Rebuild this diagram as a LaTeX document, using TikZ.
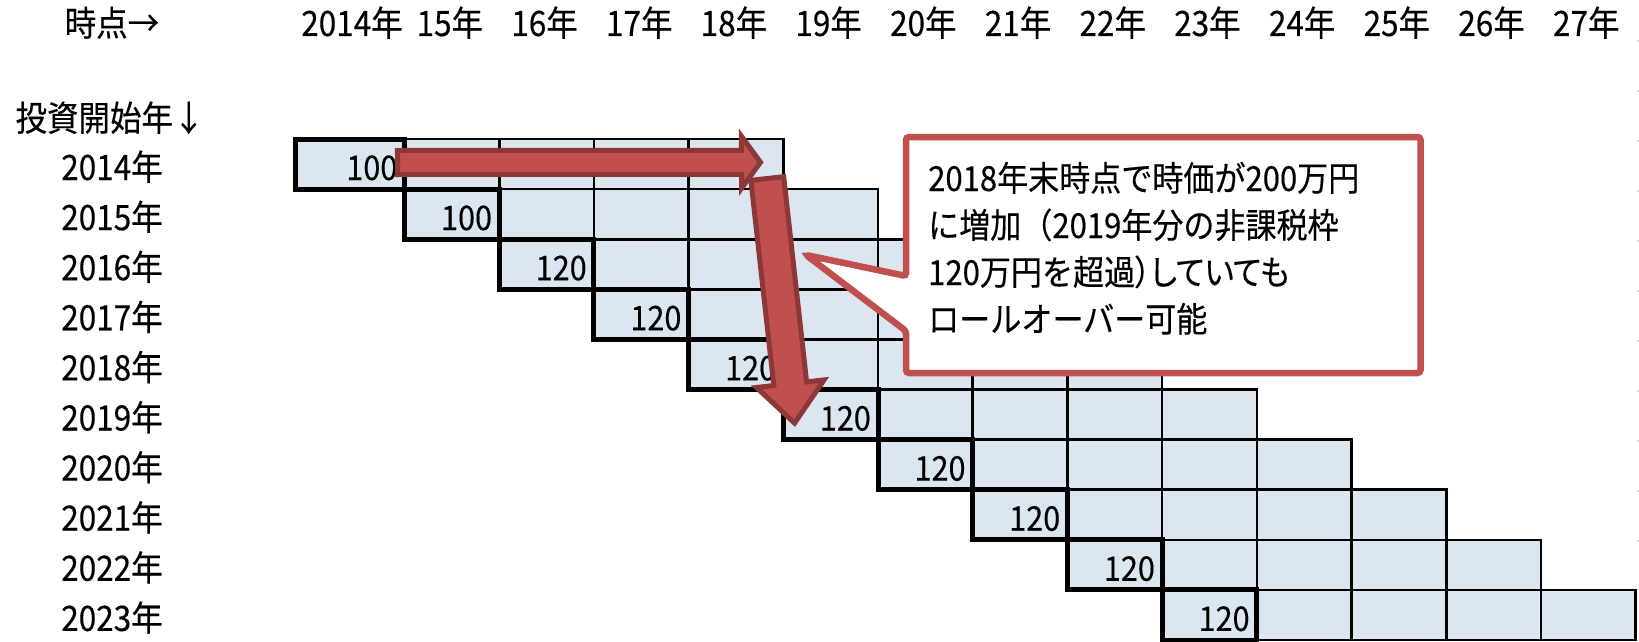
\documentclass[tikz,border=0pt]{standalone}
\usepackage{fontspec}
\setmainfont[FakeStretch=0.9,FakeBold=0.3]{Noto Sans CJK JP}
\usetikzlibrary{calc}
\definecolor{cellfill}{RGB}{220,230,241}
\definecolor{callred}{RGB}{192,80,77}
\definecolor{arrdark}{RGB}{140,56,54}
\newcommand{\propw}[1]{{\addfontfeature{RawFeature=+palt}#1}}
\begin{document}
\begin{tikzpicture}[x=1pt,y=-1pt,
  lbl/.style={inner sep=0pt, anchor=base, font=\fontsize{35}{35}\selectfont},
  num/.style={inner sep=0pt, anchor=base east, font=\fontsize{34}{34}\selectfont},
  cellbox/.style={fill=cellfill, draw=black, line width=2.6pt},
  firstbox/.style={draw=black, line width=5pt},
  blockarrow/.style={fill=callred, draw=arrdark, line width=5pt, line join=miter, miter limit=10},
  callout/.style={fill=white, draw=callred, line width=6.5pt, rounded corners=3pt},
  ctext/.style={inner sep=0pt, anchor=base west, font=\fontsize{34.5}{34.5}\selectfont},
  edgemark/.style={draw=gray!35, line width=1.2pt, dash pattern=on 2pt off 48pt}
]
\fill[white] (0,0) rectangle (1639,642);
\useasboundingbox (0,0) rectangle (1639,642);

% headings
\node[lbl] (hdr) at (112,36) {時点→};
\node[lbl] (vhdr) at (110,131) {投資開始年↓};
\node[lbl] (h0) at (352,36) {2014年};
\foreach \j/\t in {1/15,2/16,3/17,4/18,5/19,6/20,7/21,8/22,9/23,10/24,11/25,12/26,13/27}{
  \node[lbl] (h\j) at ({404.5+94.7*(\j-0.5)-2},36) {\t 年};
}

% row labels
\foreach \i in {0,...,9}{
  \pgfmathtruncatemacro\yr{2014+\i}
  \node[lbl] (r\i) at (112,{164+50.1*\i+16}) {{\yr}年};
}

% grid cells
\foreach \i in {0,...,9}{
  \foreach \k in {0,...,4}{
    \pgfmathtruncatemacro\c{\i+\k}
    \pgfmathsetmacro\xl{\c==0 ? 295 : 404.5+94.7*(\c-1)}
    \pgfmathsetmacro\xr{404.5+94.7*\c}
    \pgfmathsetmacro\yt{139+50.1*\i}
    \path[cellbox] (\xl,\yt) rectangle (\xr,\yt+50.1);
  }
}
% first cells (thick) and amounts
\foreach \i in {0,...,9}{
  \pgfmathsetmacro\xl{\i==0 ? 295 : 404.5+94.7*(\i-1)}
  \pgfmathsetmacro\xr{404.5+94.7*\i}
  \pgfmathsetmacro\yt{139+50.1*\i}
  \draw[firstbox] (\xl,\yt) rectangle (\xr,\yt+50.1);
  \node[num] (n\i) at (\xr-7,\yt+41) {\ifnum\i<2 100\else 120\fi};
}

% faint page edge marks
\draw[edgemark] (1638,40) -- (1638,545);

% callout
\coordinate (ptip) at (806,255);
\draw[callout] (906,137) -- (1420.5,137) -- (1420.5,373) -- (906,373) -- (906,331) -- (ptip) -- (906,276) -- cycle;
\node[ctext] (t1) at (928,191) {2018年末時点で時価が200万円};
\node[ctext] (t2) at (928,238) {に増加（2019年分の非課税枠};
\node[ctext] (t3) at (928,285) {120万円を超過\propw{）していても}};
\node[ctext] (t4) at (928,332) {ロールオーバー可能};

% arrow 1 (horizontal)
\coordinate (a1s) at (397.5,162.5);
\coordinate (a1t) at (760.5,162.3);
\coordinate (a1h) at ($(a1s)!344pt!(a1t)$);
\draw[blockarrow] ($(a1s)!12pt!90:(a1t)$) -- ($(a1h)!12pt!90:(a1t)$) -- ($(a1h)!26pt!90:(a1t)$) -- (a1t)
  -- ($(a1h)!26pt!-90:(a1t)$) -- ($(a1h)!12pt!-90:(a1t)$) -- ($(a1s)!12pt!-90:(a1t)$) -- cycle;

% arrow 2 (downward)
\coordinate (a2s) at (767.3,178.5);
\coordinate (a2t) at (794.6,423.1);
\coordinate (a2h) at ($(a2s)!206.5pt!(a2t)$);
\draw[blockarrow] ($(a2s)!16.5pt!90:(a2t)$) -- ($(a2h)!16.5pt!90:(a2t)$) -- ($(a2h)!34pt!90:(a2t)$) -- (a2t)
  -- ($(a2h)!34pt!-90:(a2t)$) -- ($(a2h)!16.5pt!-90:(a2t)$) -- ($(a2s)!16.5pt!-90:(a2t)$) -- cycle;
\end{tikzpicture}
\end{document}
